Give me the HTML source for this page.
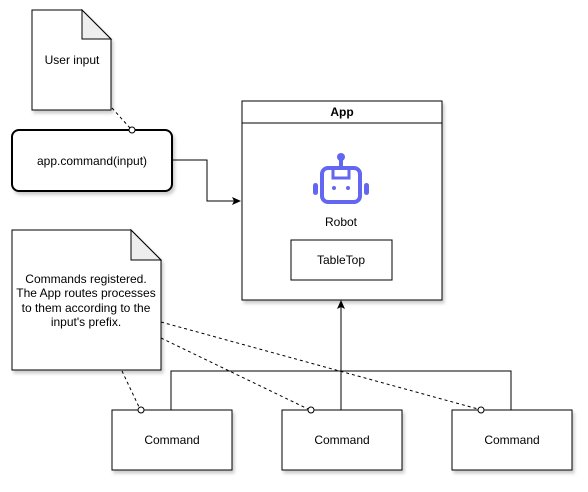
<!DOCTYPE html>
<html><head><style>
body{margin:0;background:#fff}
svg text{font-family:"Liberation Sans",Helvetica,sans-serif;font-size:12px;fill:#000}
</style></head><body>
<svg width="588" height="487" viewBox="0 0 588 487" xmlns="http://www.w3.org/2000/svg">
<defs>
<filter id="sh" x="-10%" y="-10%" width="130%" height="130%"><feDropShadow dx="2" dy="3" stdDeviation="1.5" flood-color="#000" flood-opacity="0.2"/></filter>
</defs>
<g fill="#fff" stroke="#000" stroke-width="1" filter="url(#sh)">
<path d="M32 10H82L111 39V110H32Z"/>
<rect x="12" y="130" width="160" height="61" rx="7" stroke-width="2"/>
<rect x="242" y="101" width="200" height="199"/>
<rect x="291" y="240" width="101" height="40"/>
<path d="M12 230H131L161 260V370H12Z"/>
<rect x="112" y="410" width="120" height="60"/>
<rect x="282" y="410" width="120" height="60"/>
<rect x="452" y="410" width="120" height="60"/>
</g>
<path d="M82 10V39H111Z" fill="#eee" stroke="#000"/>
<path d="M131 230V260H161Z" fill="#eee" stroke="#000"/>
<line x1="242" y1="123" x2="442" y2="123" stroke="#000"/>
<!-- robot icon -->
<g stroke="#6366f1" fill="none" stroke-width="4">
<rect x="322" y="168" width="38" height="34" rx="6"/>
<line x1="341" y1="160" x2="341" y2="168"/>
<path d="M333 170V178H349V170" stroke-width="3"/>
</g>
<circle cx="341" cy="157" r="4" fill="#6366f1"/>
<rect x="313" y="183" width="5" height="12" rx="2.5" fill="#6366f1"/>
<rect x="364" y="183" width="5" height="12" rx="2.5" fill="#6366f1"/>
<circle cx="334" cy="188" r="2" fill="#6366f1"/><circle cx="348" cy="188" r="2" fill="#6366f1"/>
<g fill="none" stroke="#000">
<polyline points="172,160 207,160 207,201 236,201"/>
<polyline points="171,410 171,371 511,371 511,410"/>
<line x1="341" y1="410" x2="341" y2="306"/>
</g>
<path d="M241 201L232 197L234 201L232 205Z"/>
<path d="M341 300L337 309L341 307L345 309Z"/>
<g stroke="#000" stroke-dasharray="3,3" fill="none">
<line x1="112" y1="108" x2="130" y2="128"/>
<line x1="122" y1="371" x2="139" y2="407"/>
<line x1="161" y1="338" x2="308" y2="409"/>
<line x1="161" y1="322" x2="478" y2="409"/>
</g>
<g fill="#fff" stroke="#000">
<circle cx="132" cy="130" r="3"/>
<circle cx="141" cy="410" r="3"/>
<circle cx="311" cy="410" r="3"/>
<circle cx="481" cy="410" r="3"/>
</g>
<g text-anchor="middle">
<text x="72" y="64">User input</text>
<text x="92" y="165">app.command(input)</text>
<text x="342" y="116" font-weight="bold">App</text>
<text x="341" y="226">Robot</text>
<text x="341" y="264">TableTop</text>
<text x="86" y="283">Commands registered.</text>
<text x="86" y="297">The App routes processes</text>
<text x="86" y="312">to them according to the</text>
<text x="86" y="326">input's prefix.</text>
<text x="172" y="444">Command</text>
<text x="342" y="444">Command</text>
<text x="512" y="444">Command</text>
</g>
</svg>
</body></html>
